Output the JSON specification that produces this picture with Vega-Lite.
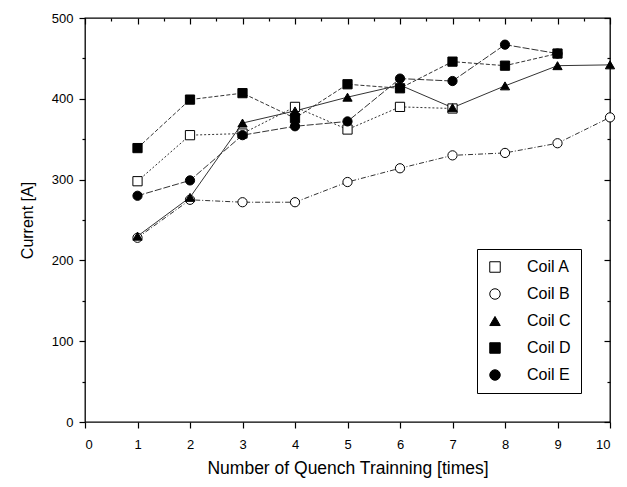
{
  "$schema": "https://vega.github.io/schema/vega-lite/v6.json",
  "width": 525,
  "height": 404,
  "autosize": "none",
  "padding": {"left": 85, "top": 18, "right": 17, "bottom": 65},
  "background": "white",
  "config": {
    "font": "Liberation Sans",
    "view": {"stroke": "black", "strokeWidth": 1.3},
    "axis": {"grid": false, "domainColor": "black", "tickColor": "black", "labelColor": "black", "titleColor": "black", "labelFont": "Liberation Sans", "titleFont": "Liberation Sans", "titleFontWeight": "normal", "tickWidth": 1.2},
    "legend": {"strokeColor": "black", "padding": 10, "labelFontSize": 16, "labelFont": "Liberation Sans", "labelColor": "black", "symbolSize": 110, "symbolStrokeColor": "black", "symbolStrokeWidth": 1, "rowPadding": 11, "labelOffset": 24, "fillColor": "white"}
  },
  "data": {"values": [
    {"coil": "Coil A", "n": 1, "current": 298},
    {"coil": "Coil A", "n": 2, "current": 355},
    {"coil": "Coil A", "n": 3, "current": 357},
    {"coil": "Coil A", "n": 4, "current": 390},
    {"coil": "Coil A", "n": 5, "current": 362},
    {"coil": "Coil A", "n": 6, "current": 390},
    {"coil": "Coil A", "n": 7, "current": 388},
    {"coil": "Coil B", "n": 1, "current": 228},
    {"coil": "Coil B", "n": 2, "current": 275},
    {"coil": "Coil B", "n": 3, "current": 272},
    {"coil": "Coil B", "n": 4, "current": 272},
    {"coil": "Coil B", "n": 5, "current": 297},
    {"coil": "Coil B", "n": 6, "current": 314},
    {"coil": "Coil B", "n": 7, "current": 330},
    {"coil": "Coil B", "n": 8, "current": 333},
    {"coil": "Coil B", "n": 9, "current": 345},
    {"coil": "Coil B", "n": 10, "current": 377},
    {"coil": "Coil C", "n": 1, "current": 230},
    {"coil": "Coil C", "n": 2, "current": 278},
    {"coil": "Coil C", "n": 3, "current": 370},
    {"coil": "Coil C", "n": 4, "current": 385},
    {"coil": "Coil C", "n": 5, "current": 402},
    {"coil": "Coil C", "n": 6, "current": 417},
    {"coil": "Coil C", "n": 7, "current": 389},
    {"coil": "Coil C", "n": 8, "current": 416},
    {"coil": "Coil C", "n": 9, "current": 441},
    {"coil": "Coil C", "n": 10, "current": 442},
    {"coil": "Coil D", "n": 1, "current": 339},
    {"coil": "Coil D", "n": 2, "current": 399},
    {"coil": "Coil D", "n": 3, "current": 407},
    {"coil": "Coil D", "n": 4, "current": 376},
    {"coil": "Coil D", "n": 5, "current": 418},
    {"coil": "Coil D", "n": 6, "current": 413},
    {"coil": "Coil D", "n": 7, "current": 446},
    {"coil": "Coil D", "n": 8, "current": 441},
    {"coil": "Coil D", "n": 9, "current": 456},
    {"coil": "Coil E", "n": 1, "current": 280},
    {"coil": "Coil E", "n": 2, "current": 299},
    {"coil": "Coil E", "n": 3, "current": 355},
    {"coil": "Coil E", "n": 4, "current": 366},
    {"coil": "Coil E", "n": 5, "current": 372},
    {"coil": "Coil E", "n": 6, "current": 425},
    {"coil": "Coil E", "n": 7, "current": 422},
    {"coil": "Coil E", "n": 8, "current": 467},
    {"coil": "Coil E", "n": 9, "current": 456}
  ]},
  "layer": [
    {
      "transform": [{"filter": "datum.coil === 'Coil A'"}],
      "mark": {"type": "line", "color": "#333", "strokeWidth": 1, "strokeDash": [2, 2]},
      "encoding": {
        "x": {"field": "n", "type": "quantitative", "scale": {"domain": [0, 10], "nice": false},
              "axis": {"orient": "bottom", "values": [0,0.5,1,1.5,2,2.5,3,3.5,4,4.5,5,5.5,6,6.5,7,7.5,8,8.5,9,9.5,10],
                       "tickSize": {"condition": {"test": "datum.value % 1 !== 0", "value": 3}, "value": 6},
                       "format": "d",
                       "labelExpr": "datum.value % 1 === 0 ? datum.label : ''",
                       "labelPadding": 10, "labelFontSize": 13, "title": "Number of Quench Trainning [times]", "titleFontSize": 17.5, "titlePadding": 8, "domain": false}},
        "y": {"field": "current", "type": "quantitative", "scale": {"domain": [0, 500], "nice": false},
              "axis": {"orient": "left", "values": [0,50,100,150,200,250,300,350,400,450,500],
                       "tickSize": {"condition": {"test": "datum.value % 100 !== 0", "value": 3}, "value": 6},
                       "labelExpr": "datum.value % 100 === 0 ? datum.label : ''",
                       "labelPadding": 6, "labelFontSize": 13, "title": "Current [A]", "titleFontSize": 16, "titlePadding": 16, "domain": false}}
      }
    },
    {
      "transform": [{"filter": "datum.coil === 'Coil B'"}],
      "mark": {"type": "line", "color": "#333", "strokeWidth": 1, "strokeDash": [5, 2, 1, 2]},
      "encoding": {
        "x": {"field": "n", "type": "quantitative", "axis": null},
        "y": {"field": "current", "type": "quantitative", "axis": null}
      }
    },
    {
      "transform": [{"filter": "datum.coil === 'Coil C'"}],
      "mark": {"type": "line", "color": "#333", "strokeWidth": 1},
      "encoding": {
        "x": {"field": "n", "type": "quantitative", "axis": null},
        "y": {"field": "current", "type": "quantitative", "axis": null}
      }
    },
    {
      "transform": [{"filter": "datum.coil === 'Coil D'"}],
      "mark": {"type": "line", "color": "#333", "strokeWidth": 1, "strokeDash": [4, 2]},
      "encoding": {
        "x": {"field": "n", "type": "quantitative", "axis": null},
        "y": {"field": "current", "type": "quantitative", "axis": null}
      }
    },
    {
      "transform": [{"filter": "datum.coil === 'Coil E'"}],
      "mark": {"type": "line", "color": "#333", "strokeWidth": 1, "strokeDash": [7, 2]},
      "encoding": {
        "x": {"field": "n", "type": "quantitative", "axis": null},
        "y": {"field": "current", "type": "quantitative", "axis": null}
      }
    },
    {
      "mark": {"type": "point", "filled": true, "size": 85, "strokeWidth": 1, "opacity": 1},
      "encoding": {
        "x": {"field": "n", "type": "quantitative", "axis": {"orient": "top", "values": [0,0.5,1,1.5,2,2.5,3,3.5,4,4.5,5,5.5,6,6.5,7,7.5,8,8.5,9,9.5,10],
              "tickSize": {"condition": {"test": "datum.value % 1 !== 0", "value": -3}, "value": -6}, "labels": false, "title": null, "domain": false}},
        "y": {"field": "current", "type": "quantitative", "axis": {"orient": "right", "values": [0,50,100,150,200,250,300,350,400,450,500],
              "tickSize": {"condition": {"test": "datum.value % 100 !== 0", "value": -3}, "value": -6}, "labels": false, "title": null, "domain": false}},
        "shape": {"field": "coil", "type": "nominal",
                  "scale": {"domain": ["Coil A","Coil B","Coil C","Coil D","Coil E"], "range": ["square","circle","triangle-up","square","circle"]},
                  "legend": {"title": null, "orient": "bottom-right", "offset": 29}},
        "fill": {"field": "coil", "type": "nominal",
                 "scale": {"domain": ["Coil A","Coil B","Coil C","Coil D","Coil E"], "range": ["white","white","black","black","black"]},
                 "legend": {"title": null, "orient": "bottom-right", "offset": 29}},
        "stroke": {"field": "coil", "type": "nominal",
                 "scale": {"domain": ["Coil A","Coil B","Coil C","Coil D","Coil E"], "range": ["black","black","black","black","black"]},
                 "legend": {"title": null, "orient": "bottom-right", "offset": 29}}
      }
    }
  ],
  "resolve": {"axis": {"x": "independent", "y": "independent"}}
}
